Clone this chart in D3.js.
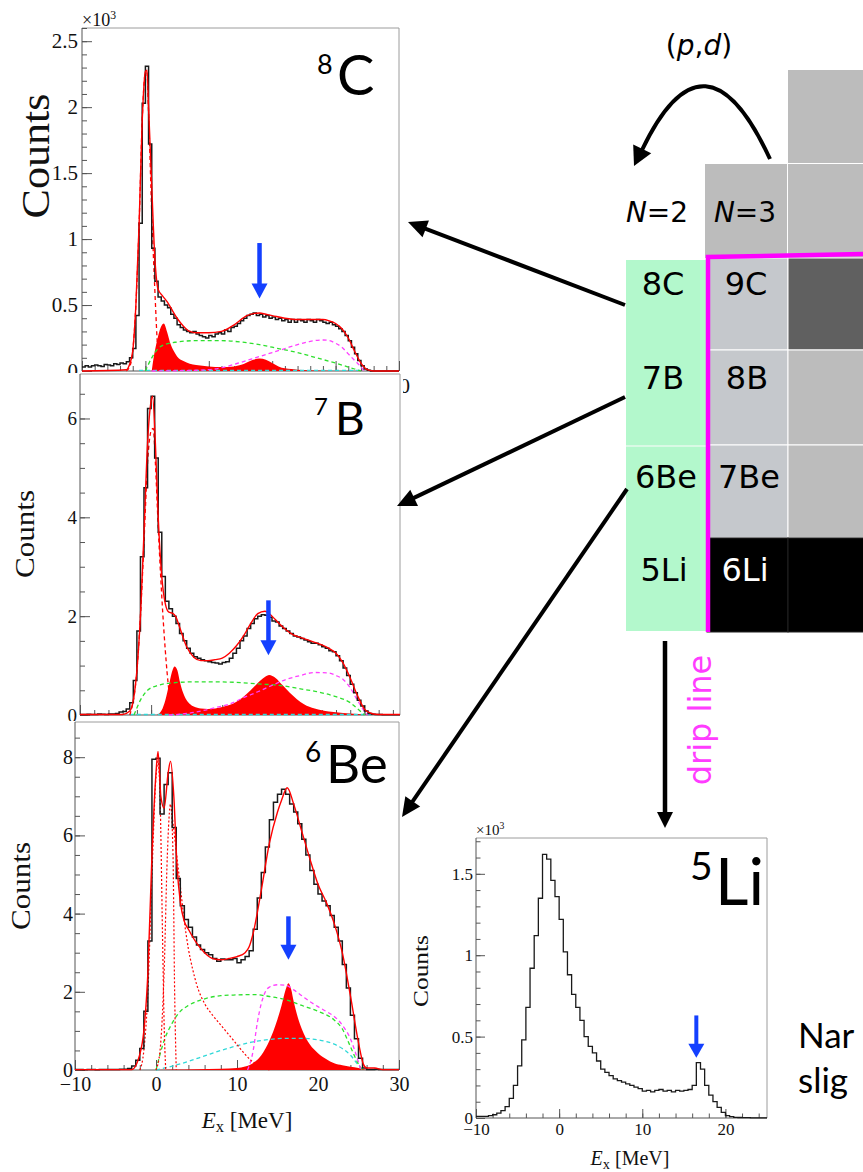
<!DOCTYPE html>
<html>
<head>
<meta charset="utf-8">
<script src="https://cdn.jsdelivr.net/npm/d3@7"></script>
<style>
  html, body { margin: 0; padding: 0; background: #fff; overflow: hidden; }
  svg { display: block; }
</style>
</head>
<body>
<svg id="fig" width="863" height="1172"></svg>
<script>
// ===================== data =====================
// Excitation-energy spectra, 0.5 MeV bins starting at -10 MeV.
const binWidth = 0.5;
const histStart = -10;

// 8C (x10^3 counts)
const c8Counts = [
  0.03, 0.04, 0.03, 0.04, 0.045, 0.04, 0.035, 0.05, 0.045, 0.04, 0.055, 0.05, 0.06, 0.055,
  0.07, 0.1,
  0.17, 0.42, 1.12, 2.03, 2.31, 1.72, 0.93, 0.68,
  0.56, 0.53, 0.5, 0.48, 0.43, 0.4, 0.35, 0.33, 0.31, 0.3, 0.29, 0.3, 0.28, 0.27, 0.26, 0.25,
  0.27, 0.26, 0.28, 0.29, 0.28, 0.31, 0.3, 0.33, 0.34, 0.36, 0.38, 0.4, 0.42, 0.43, 0.44, 0.42, 0.43, 0.41, 0.42, 0.4,
  0.41, 0.39, 0.4, 0.38, 0.39, 0.37, 0.39, 0.37, 0.39, 0.38, 0.37, 0.39, 0.38, 0.37, 0.39, 0.38, 0.37, 0.36, 0.37, 0.35,
  0.34, 0.32, 0.3, 0.27, 0.23, 0.18, 0.13, 0.08, 0.04, 0.015,
  0.005, 0, 0, 0, 0, 0, 0, 0, 0, 0
];
const c8Fit = [[-10,0],[-3,0.01],[-2.5,0.05],[-2,0.15],[-1.5,0.5],[-1,1.1],[-0.5,1.9],[0,2.27],[0.25,2.28],[0.5,2.0],[1,1.4],[1.5,0.85],[2,0.62],[2.7,0.57],[3.5,0.52],[4,0.48],[5,0.4],[6,0.34],[7,0.3],[8,0.29],[9,0.29],[10,0.29],[12,0.3],[14,0.35],[16,0.42],[17,0.435],[18,0.44],[19,0.43],[20,0.42],[22,0.4],[24,0.39],[26,0.39],[28,0.39],[29,0.38],[30,0.36],[31,0.32],[32,0.25],[33,0.15],[34,0.06],[35,0.01],[36,0],[40,0]];
const c8Ground = [[-3,0],[-2.5,0.03],[-2,0.15],[-1.5,0.5],[-1,1.1],[-0.5,1.9],[0,2.26],[0.25,2.26],[0.5,1.95],[1,1.2],[1.5,0.6],[2,0.12],[2.3,0]];
const c8Excited = [[1,0],[1.3,0.1],[1.7,0.2],[2.2,0.3],[2.9,0.36],[3.4,0.3],[4,0.2],[4.5,0.15],[5,0.11],[6,0.075],[7,0.055],[8,0.045],[10,0.035],[12,0.03],[14,0.035],[15,0.045],[16,0.065],[17,0.085],[18,0.095],[19,0.085],[20,0.06],[21,0.035],[22,0.02],[24,0.01],[27,0.003],[30,0]];
const c8Green = [[0,0],[1,0.1],[2,0.17],[3,0.2],[5,0.22],[8,0.23],[12,0.23],[15,0.22],[18,0.2],[21,0.17],[24,0.14],[27,0.1],[30,0.06],[32,0.03],[34,0]];
const c8Magenta = [[1,0],[6,0.003],[10,0.01],[12,0.025],[14,0.05],[16,0.08],[18,0.11],[20,0.14],[22,0.17],[24,0.2],[26,0.225],[28,0.235],[29,0.23],[30,0.21],[31,0.18],[32,0.13],[33,0.08],[34,0.03],[34.5,0]];
const c8Cyan = [[-1,0.004],[34,0.004]];
const c8Marker = [18.0, 0.97, 0.55];   // energy, arrow top, arrow tip

// 7B (x10^3 counts)
const b7Counts = [
  0.01, 0.01, 0.015, 0.01, 0.01, 0.02, 0.015, 0.01, 0.02, 0.02, 0.03,
  0.06, 0.07, 0.12,
  0.25, 0.7, 1.7, 3.2, 4.6, 6.2, 6.45, 5.2, 3.7, 2.8,
  2.3, 2.15, 2.0, 1.85, 1.65, 1.5, 1.35, 1.25, 1.18, 1.15, 1.12, 1.1, 1.08, 1.06, 1.05, 1.03,
  1.06, 1.08, 1.15, 1.25, 1.35, 1.5, 1.6, 1.75, 1.85, 1.95, 2.0, 2.03, 2.02, 1.98, 1.9, 1.88, 1.8, 1.75, 1.7, 1.65,
  1.6, 1.58, 1.55, 1.52, 1.48, 1.45, 1.45, 1.42, 1.38, 1.35, 1.3, 1.28, 1.2, 1.1, 0.95, 0.8, 0.62, 0.45, 0.3, 0.18,
  0.08, 0.03, 0.015, 0.01, 0.01, 0.005, 0.005, 0.005, 0.005, 0.005
];
const b7Fit = [[-10,0.01],[-4,0.01],[-3,0.08],[-2.5,0.3],[-2,0.9],[-1.5,2.0],[-1,3.7],[-0.5,5.5],[0,6.35],[0.2,6.45],[0.6,5.5],[1,4.0],[1.5,2.8],[2,2.25],[2.5,2.08],[3,2.06],[3.5,1.98],[4,1.78],[5,1.38],[6,1.17],[7,1.1],[8,1.1],[9,1.12],[10,1.15],[11,1.25],[12,1.4],[13,1.6],[14,1.85],[15,2.05],[16,2.1],[17,2.0],[18,1.85],[19,1.72],[20,1.62],[21,1.57],[22,1.52],[23,1.47],[24,1.42],[25,1.35],[26,1.25],[27,1.05],[28,0.75],[29,0.4],[30,0.12],[31,0.03],[32,0.01],[35,0.01]];
const b7Ground = [[-3,0],[-2,0.9],[-1.5,2.0],[-1,3.5],[-0.5,5.1],[0,5.75],[0.3,5.8],[0.6,5.1],[1,3.8],[1.5,2.4],[2,1.3],[2.5,0.5],[3,0.1],[3.5,0]];
const b7Excited = [[0.8,0],[1.5,0.1],[2,0.3],[2.5,0.6],[3,0.9],[3.3,0.98],[3.7,0.9],[4,0.7],[4.5,0.45],[5,0.3],[5.5,0.22],[6,0.17],[7,0.13],[8,0.12],[9,0.13],[10,0.16],[11,0.2],[12,0.27],[13,0.37],[14,0.5],[15,0.65],[16,0.77],[16.6,0.81],[17.5,0.75],[18.5,0.6],[19.5,0.45],[20.5,0.32],[21.5,0.22],[23,0.13],[25,0.07],[27,0.04],[29,0.02],[30.5,0]];
const b7Green = [[-2.4,0],[-1.5,0.3],[-0.5,0.5],[1,0.6],[3,0.65],[6,0.67],[9,0.67],[12,0.66],[15,0.63],[18,0.6],[21,0.53],[24,0.45],[26,0.37],[28,0.25],[29,0.13],[30,0]];
const b7Magenta = [[2.5,0],[5,0.03],[7,0.08],[9,0.15],[11,0.22],[13,0.35],[15,0.47],[17,0.6],[19,0.72],[21,0.8],[23,0.86],[25,0.85],[26,0.8],[27,0.72],[28,0.55],[29,0.3],[30,0.08],[30.5,0]];
const b7Cyan = [[-3,0.01],[31,0.01]];
const b7Marker = [16.5, 2.32, 1.21];

// 6Be (x10^3 counts)
const be6Counts = [
  0.01, 0.01, 0.005, 0.01, 0.01, 0.005, 0.01, 0.01, 0.01, 0.015, 0.01, 0.02, 0.02,
  0.04, 0.1, 0.25, 0.55, 1.5, 3.3, 7.95,
  7.97, 6.55, 7.3, 7.6, 6.2,
  4.9, 4.2, 3.85, 3.65, 3.4, 3.2, 3.08, 3.0, 2.95, 2.85, 2.78, 2.84, 2.82, 2.82, 2.85, 2.74, 2.82, 2.9, 3.05,
  3.6, 4.4, 5.05, 5.7, 6.4, 6.85, 7.05, 7.18, 7.05, 6.8, 6.6, 6.3, 5.9, 5.5, 5.1, 4.75, 4.5, 4.32, 4.2, 3.95, 3.65, 3.3, 2.7, 2.1, 1.4, 0.8, 0.3, 0.05,
  0.01, 0.01, 0.02, 0.01, 0.01, 0.01, 0.015, 0.01
];
const be6Fit = [[-10,0.01],[-3,0.01],[-2,0.4],[-1.5,1.0],[-1,2.5],[-0.5,5.5],[0,7.6],[0.25,8.15],[0.6,7.0],[1,6.7],[1.5,7.6],[1.8,7.9],[2.2,7.0],[2.6,5.2],[3,4.3],[3.5,3.8],[4,3.6],[5,3.25],[6,3.0],[7,2.85],[8,2.82],[9,2.85],[10,2.9],[11,3.0],[11.5,3.15],[12,3.5],[13,4.6],[14,5.8],[15,6.6],[15.5,6.9],[16.2,7.22],[17,6.8],[18,6.1],[19,5.4],[20,4.75],[21,4.3],[22,3.75],[23,3.0],[24,1.9],[25,0.7],[25.6,0.15],[26,0.05],[27,0.05],[28,0.01],[30,0.01]];
const be6Ground = [[-2,0],[-1.5,0.5],[-1,2.0],[-0.5,5.0],[0,7.5],[0.25,7.9],[0.5,7.0],[0.8,3.5],[1.0,1.2],[1.2,0]];
const be6First = [[0,0],[0.5,0.5],[1.0,2.5],[1.4,5.5],[1.8,6.8],[2.1,5.5],[2.3,2.0],[2.5,0]];
const be6Broad = [[2.0,6.5],[2.5,5.6],[3.0,4.7],[3.5,3.8],[4,3.1],[4.5,2.6],[5,2.2],[6,1.7],[7,1.4],[8,1.15],[9,0.9],[10,0.65],[11,0.4],[12,0.2],[13,0.08],[14,0]];
const be6Excited = [[0,0],[2,0.01],[5,0.02],[8,0.03],[10,0.05],[11,0.09],[12,0.18],[13,0.38],[14,0.75],[14.5,1.0],[15,1.3],[15.5,1.65],[16,2.05],[16.35,2.22],[16.7,2.05],[17,1.75],[17.5,1.35],[18,1.05],[18.5,0.82],[19,0.65],[20,0.43],[21,0.28],[22,0.17],[23,0.12],[24,0.08],[25,0.05],[26,0]];
const be6Green = [[0,0],[1,0.75],[2,1.2],[3,1.5],[4,1.65],[6,1.82],[8,1.9],[10,1.92],[12,1.93],[14,1.88],[16,1.8],[18,1.65],[20,1.5],[22,1.28],[23,1.05],[24,0.6],[25,0.15],[25.5,0]];
const be6Magenta = [[11.3,0],[12,0.5],[12.5,1.2],[13,1.7],[13.5,2.0],[14,2.12],[15,2.18],[16,2.17],[17,2.05],[18,1.9],[19,1.75],[20,1.62],[21,1.5],[22,1.37],[23,1.15],[24,0.8],[25,0.2],[25.3,0]];
const be6Cyan = [[0,0],[2,0.1],[4,0.22],[6,0.36],[8,0.5],[10,0.62],[12,0.72],[14,0.78],[16,0.81],[18,0.81],[20,0.77],[22,0.66],[23,0.55],[24,0.38],[25,0.12],[25.5,0]];
const be6Marker = [16.35, 3.93, 2.82];

// 5Li (x10^3 counts)
const li5Counts = [
  0.01, 0.01, 0.01, 0.015, 0.02,
  0.03, 0.045, 0.07, 0.12, 0.2, 0.32, 0.48, 0.68, 0.92, 1.12, 1.35, 1.62, 1.59,
  1.46, 1.36, 1.22, 1.02, 0.88, 0.76, 0.68, 0.6, 0.5, 0.44, 0.4, 0.35, 0.3, 0.28, 0.26, 0.24, 0.23, 0.22, 0.21, 0.2, 0.19, 0.18,
  0.165, 0.17, 0.16, 0.17, 0.175, 0.165, 0.17, 0.16, 0.17, 0.165, 0.17, 0.175,
  0.2, 0.34, 0.3, 0.2, 0.14, 0.1, 0.065, 0.035, 0.015, 0.008,
  0.004, 0.003, 0.002, 0.002, 0.001, 0.001, 0.001, 0.001
];
const li5Marker = [16.5, 0.63, 0.37];

// Axis ticks, and the tick labels left uncovered by the panel stacked below
const c8YTicks = [0, 0.5, 1, 1.5, 2, 2.5];
const c8XTicks = [-10, 0, 10, 20, 30, 40];
const c8XLabels = [40];
const b7YTicks = [0, 2, 4, 6];
const b7XTicks = [-10, 0, 10, 20, 30];
const b7XLabels = [];
const be6YTicks = [0, 2, 4, 6, 8];
const be6XTicks = [-10, 0, 10, 20, 30];
const li5YTicks = [0, 0.5, 1, 1.5];
const li5XTicks = [-10, 0, 10, 20];

// Chart of nuclides: N = 2 and N = 3 columns
const isotopesN2 = ["8C", "7B", "6Be", "5Li"];
const isotopesN3 = ["9C", "8B", "7Be", "6Li"];

// Note lines at the lower right
const noteLines = ["Nar", "slig"];

// ===================== drawing =====================
const SERIF = "'Liberation Serif', 'Times New Roman', serif";
const SANS = "'DejaVu Sans', Verdana, sans-serif";
const LATO = "Lato, 'Open Sans', sans-serif";
const RED = "#ff0000", GREEN = "#2ee02e", MAGENTA = "#ff40ff", CYAN = "#2fd8d8", BLUE = "#1440ff";

const svg = d3.select("#fig");
const defs = svg.append("defs");

function histPoints(counts) {
  const pts = counts.map((v, i) => [histStart + i * binWidth, v]);
  pts.push([histStart + counts.length * binWidth, counts[counts.length - 1]]);
  return pts;
}

function drawPanel(p) {
  const g = svg.append("g");
  if (p.bg) {
    g.append("rect").attr("x", p.bg[0]).attr("y", p.bg[1]).attr("width", p.bg[2]).attr("height", p.bg[3]).attr("fill", "#fff");
  }
  const x = d3.scaleLinear().domain(p.xDomain).range([p.left, p.right]);
  const y = d3.scaleLinear().domain(p.yDomain).range([p.bottom, p.top]);

  defs.append("clipPath").attr("id", "clip-" + p.id)
    .append("rect").attr("x", p.left).attr("y", p.top)
    .attr("width", p.right - p.left).attr("height", p.bottom - p.top + 1);

  // frame
  g.append("path")
    .attr("d", `M${p.left},${p.top}H${p.right}V${p.bottom}`)
    .attr("fill", "none").attr("stroke", "#9c9c9c").attr("stroke-width", 1);

  const styleAxis = (sel, fs) => {
    sel.select(".domain").remove();
    sel.selectAll("line").attr("stroke", "#555").attr("stroke-width", 1);
    sel.selectAll("text").attr("font-family", SERIF).attr("font-size", fs).attr("fill", "#111");
    sel.selectAll("text").filter(function () { return this.textContent === ""; }).remove();
  };

  // y axis: major + minor ticks pointing inward
  g.append("g").attr("transform", `translate(${p.left},0)`)
    .call(d3.axisLeft(y).tickValues(p.yMinor).tickSize(-p.minorLen).tickFormat(() => ""))
    .call(s => styleAxis(s, p.tickFont));
  g.append("g").attr("transform", `translate(${p.left},0)`)
    .call(d3.axisLeft(y).tickValues(p.yTicks).tickSize(-p.majorLen).tickPadding(p.yPad).tickFormat(d => String(d)))
    .call(s => styleAxis(s, p.tickFont));
  // x axis
  const fmt = d3.format("d");
  const shown = p.xLabels || p.xTicks;
  g.append("g").attr("transform", `translate(0,${p.bottom})`)
    .call(d3.axisBottom(x).tickValues(p.xMinor).tickSize(-p.minorLen).tickFormat(() => ""))
    .call(s => styleAxis(s, p.tickFont));
  g.append("g").attr("transform", `translate(0,${p.bottom})`)
    .call(d3.axisBottom(x).tickValues(p.xTicks).tickSize(-p.majorLen).tickPadding(p.xPad)
      .tickFormat(d => shown.includes(d) ? fmt(d) : ""))
    .call(s => styleAxis(s, p.tickFont));
  // axis lines
  g.append("path").attr("d", `M${p.left},${p.top}V${p.bottom}H${p.right}`)
    .attr("fill", "none").attr("stroke", "#555").attr("stroke-width", 1);

  const plot = g.append("g").attr("clip-path", `url(#clip-${p.id})`);
  const curve = d3.line().x(d => x(d[0])).y(d => y(d[1])).curve(d3.curveMonotoneX);
  const area = d3.area().x(d => x(d[0])).y0(y(0)).y1(d => y(d[1])).curve(d3.curveMonotoneX);

  (p.fills || []).forEach(f => {
    plot.append("path").attr("d", area(f)).attr("fill", RED).attr("stroke", "none");
  });
  (p.comps || []).forEach(c => {
    plot.append("path").attr("d", curve(c.data)).attr("fill", "none")
      .attr("stroke", c.color).attr("stroke-width", c.width || 1.3)
      .attr("stroke-dasharray", c.dash);
  });
  if (p.counts) {
    plot.append("path")
      .attr("d", d3.line().x(d => x(d[0])).y(d => y(d[1])).curve(d3.curveStepAfter)(histPoints(p.counts)))
      .attr("fill", "none").attr("stroke", "#1a1a1a").attr("stroke-width", p.histWidth || 1.5);
  }
  if (p.fit) {
    plot.append("path").attr("d", curve(p.fit)).attr("fill", "none")
      .attr("stroke", RED).attr("stroke-width", 1.4);
  }

  // blue marker arrow
  if (p.marker) {
    const [e, top, tip] = p.marker;
    const ax = x(e), yTop = y(top), yTip = y(tip);
    const hl = p.arrowHead[0], hw = p.arrowHead[1];
    g.append("line").attr("x1", ax).attr("x2", ax).attr("y1", yTop).attr("y2", yTip - hl + 1)
      .attr("stroke", BLUE).attr("stroke-width", p.arrowHead[2]);
    g.append("path").attr("d", `M${ax - hw},${yTip - hl}L${ax + hw},${yTip - hl}L${ax},${yTip}Z`).attr("fill", BLUE);
  }

  // y-axis title
  g.append("text")
    .attr("transform", `translate(${p.yTitle[0]},${p.yTitle[1]}) rotate(-90)`)
    .attr("text-anchor", "middle").attr("dominant-baseline", "central")
    .attr("font-family", SERIF).attr("font-size", p.yTitle[2])
    .attr("textLength", p.yTitle[3]).attr("lengthAdjust", "spacingAndGlyphs")
    .attr("fill", "#111").text("Counts");

  // x-axis title
  if (p.xTitle) {
    const [cx, by, fs] = p.xTitle;
    const t = g.append("text").attr("x", cx).attr("y", by).attr("text-anchor", "middle")
      .attr("font-family", SERIF).attr("font-size", fs).attr("fill", "#111");
    t.append("tspan").attr("font-style", "italic").text("E");
    t.append("tspan").attr("font-size", fs * 0.72).attr("dy", fs * 0.18).text("x");
    t.append("tspan").attr("dy", -fs * 0.18).text(" [MeV]");
  }
  // x10^3 multiplier
  if (p.mult) {
    const [mx, my, fs] = p.mult;
    const t = g.append("text").attr("x", mx).attr("y", my)
      .attr("font-family", SERIF).attr("font-size", fs).attr("fill", "#111");
    t.append("tspan").text("\u00d710");
    t.append("tspan").attr("font-size", fs * 0.65).attr("dy", -fs * 0.4).text("3");
  }
  // nucleus label
  const [sup, sym] = p.nucleus;
  g.append("text").attr("x", p.nucPos[0]).attr("y", p.nucPos[1])
    .attr("font-family", LATO).attr("font-size", p.nucPos[2]).attr("fill", "#000").text(sup);
  g.append("text").attr("x", p.nucPos[3]).attr("y", p.nucPos[4])
    .attr("font-family", LATO).attr("font-size", p.nucPos[5]).attr("fill", "#000").text(sym);
}

const step = (a, b, s) => d3.range(a, b + 1e-9, s);

// 8C
drawPanel({
  id: "c8", left: 82, right: 399, top: 28, bottom: 371,
  xDomain: [-10, 40], yDomain: [0, 2.6],
  yTicks: c8YTicks, yMinor: step(0, 2.6, 0.1), xTicks: c8XTicks, xLabels: c8XLabels, xMinor: step(-10, 40, 2),
  majorLen: 10, minorLen: 5, yPad: 4, xPad: 7, tickFont: 21,
  counts: c8Counts, fit: c8Fit, fills: [c8Excited],
  comps: [
    { data: c8Cyan, color: CYAN, dash: "4,3" },
    { data: c8Green, color: GREEN, dash: "4,3" },
    { data: c8Magenta, color: MAGENTA, dash: "4,3" },
    { data: c8Ground, color: RED, dash: "4,3" }
  ],
  marker: c8Marker, arrowHead: [15, 8, 4.5],
  yTitle: [35, 156, 41, 125], mult: [82, 26, 18],
  nucleus: ["8", "C"], nucPos: [317, 74, 27, 337, 95, 56]
});

// 7B
drawPanel({
  id: "b7", bg: [0, 373, 403, 349], left: 80, right: 400, top: 374, bottom: 715,
  xDomain: [-10, 35], yDomain: [0, 6.9],
  yTicks: b7YTicks, yMinor: step(0, 6.9, 0.5), xTicks: b7XTicks, xLabels: b7XLabels, xMinor: step(-10, 35, 2),
  majorLen: 10, minorLen: 5, yPad: 3, xPad: 7, tickFont: 19,
  counts: b7Counts, fit: b7Fit, fills: [b7Excited],
  comps: [
    { data: b7Cyan, color: CYAN, dash: "4,3" },
    { data: b7Green, color: GREEN, dash: "4,3" },
    { data: b7Magenta, color: MAGENTA, dash: "4,3" },
    { data: b7Ground, color: RED, dash: "4,3" }
  ],
  marker: b7Marker, arrowHead: [15, 8, 4.5],
  yTitle: [25, 534, 27, 88],
  nucleus: ["7", "B"], nucPos: [314, 415, 24, 335, 435, 46]
});

// 6Be
drawPanel({
  id: "be6", bg: [0, 721, 403, 451], left: 75, right: 399, top: 722, bottom: 1070,
  xDomain: [-10, 30], yDomain: [0, 8.9],
  yTicks: be6YTicks, yMinor: step(0, 8.9, 0.5), xTicks: be6XTicks, xMinor: step(-10, 30, 2),
  majorLen: 10, minorLen: 5, yPad: 2, xPad: 7, tickFont: 20,
  counts: be6Counts, fit: be6Fit, fills: [be6Excited],
  comps: [
    { data: be6Cyan, color: CYAN, dash: "4,3" },
    { data: be6Green, color: GREEN, dash: "4,3" },
    { data: be6Magenta, color: MAGENTA, dash: "4,3" },
    { data: be6Ground, color: RED, dash: "2,2", width: 1.2 },
    { data: be6First, color: RED, dash: "2,2", width: 1.2 },
    { data: be6Broad, color: RED, dash: "2,2", width: 1.2 }
  ],
  marker: be6Marker, arrowHead: [15, 8, 4.5],
  yTitle: [21, 886, 27, 88], xTitle: [247, 1128, 23],
  nucleus: ["6", "Be"], nucPos: [305, 762, 28, 326, 783, 53]
});

// 5Li
drawPanel({
  id: "li5", left: 476, right: 767, top: 838, bottom: 1118,
  xDomain: [-10, 25], yDomain: [0, 1.72],
  yTicks: li5YTicks, yMinor: step(0, 1.72, 0.1), xTicks: li5XTicks, xMinor: step(-10, 25, 2),
  majorLen: 9, minorLen: 4.5, yPad: 3, xPad: 5, tickFont: 17,
  counts: li5Counts, histWidth: 1.3,
  marker: li5Marker, arrowHead: [14, 8, 4],
  yTitle: [420, 971, 22, 72], xTitle: [630, 1165, 20], mult: [476, 835, 15],
  nucleus: ["5", "Li"], nucPos: [690, 880, 39, 715, 905, 65]
});

// ---------- chart of nuclides ----------
const chart = svg.append("g");
const rowEdges = [258, 350, 445, 538, 632];
const colN2 = [626, 706], colN3 = [707, 788], colN4 = [788, 863];
const greyTop = "#bcbcbc", greyCell = "#c5c8cc", greyDark = "#606060";

// upper grey cells
chart.append("rect").attr("x", colN4[0]).attr("y", 70).attr("width", colN4[1] - colN4[0]).attr("height", 93).attr("fill", greyTop);
chart.append("rect").attr("x", colN4[0]).attr("y", 164).attr("width", colN4[1] - colN4[0]).attr("height", 94).attr("fill", greyTop);
chart.append("rect").attr("x", colN3[0] - 2).attr("y", 164).attr("width", colN3[1] - colN3[0] + 1).attr("height", 94).attr("fill", greyTop);

// N = 2 column (green)
chart.append("rect").attr("x", colN2[0]).attr("y", 260).attr("width", colN2[1] - colN2[0]).attr("height", 371).attr("fill", "#b3f8cc");
chart.append("line").attr("x1", colN2[0]).attr("x2", colN2[1]).attr("y1", 446).attr("y2", 446).attr("stroke", "#e6fbee").attr("stroke-width", 1.5);

// N = 3 and N = 4 columns
const n3Fill = [greyCell, greyCell, greyCell, "#000"];
const n4Fill = [greyDark, greyTop, greyTop, "#000"];
isotopesN3.forEach((name, i) => {
  chart.append("rect").attr("x", colN3[0]).attr("y", rowEdges[i]).attr("width", colN3[1] - colN3[0])
    .attr("height", rowEdges[i + 1] - rowEdges[i]).attr("fill", n3Fill[i])
    .attr("stroke", i === 3 ? "#222" : "#fff").attr("stroke-width", 1);
  chart.append("rect").attr("x", colN4[0]).attr("y", rowEdges[i]).attr("width", colN4[1] - colN4[0] + 2)
    .attr("height", rowEdges[i + 1] - rowEdges[i]).attr("fill", n4Fill[i])
    .attr("stroke", i === 3 ? "#222" : "#fff").attr("stroke-width", 1);
});

// cell labels
const labelBase = [295, 389, 488, 581];
const n2X = [663, 663, 666, 664], n3X = [746, 747, 749, 745];
isotopesN2.forEach((name, i) => {
  chart.append("text").attr("x", n2X[i]).attr("y", labelBase[i]).attr("text-anchor", "middle")
    .attr("font-family", SANS).attr("font-size", 32).attr("fill", "#000").text(name);
});
isotopesN3.forEach((name, i) => {
  chart.append("text").attr("x", n3X[i]).attr("y", labelBase[i]).attr("text-anchor", "middle")
    .attr("font-family", SANS).attr("font-size", 32).attr("fill", i === 3 ? "#fff" : "#000").text(name);
});

// neutron-number labels
[["2", 657], ["3", 745]].forEach(([n, cx]) => {
  const t = chart.append("text").attr("x", cx).attr("y", 222).attr("text-anchor", "middle")
    .attr("font-family", SANS).attr("font-size", 28).attr("fill", "#000");
  t.append("tspan").attr("font-style", "italic").text("N");
  t.append("tspan").text("=" + n);
});

// drip line
chart.append("path").attr("d", "M708,632 L708,257 L863,254")
  .attr("fill", "none").attr("stroke", "#ff00ff").attr("stroke-width", 4.5).attr("stroke-linejoin", "miter");
chart.append("text").attr("transform", "translate(711,720) rotate(-90)").attr("text-anchor", "middle")
  .attr("font-family", SANS).attr("font-size", 32).attr("fill", "#ff3cff").text("drip line");

// (p,d) reaction label and curved arrow
const pd = chart.append("text").attr("x", 699).attr("y", 55).attr("text-anchor", "middle")
  .attr("font-family", SANS).attr("font-size", 28).attr("fill", "#000");
pd.append("tspan").text("(");
pd.append("tspan").attr("font-style", "italic").text("p");
pd.append("tspan").text(",");
pd.append("tspan").attr("font-style", "italic").text("d");
pd.append("tspan").text(")");

chart.append("path").attr("d", "M770,159 Q705,18 642,150").attr("fill", "none")
  .attr("stroke", "#000").attr("stroke-width", 4);

function arrowHead(tipX, tipY, ux, uy, len, half) {
  const bx = tipX - ux * len, by = tipY - uy * len;
  chart.append("path")
    .attr("d", `M${tipX},${tipY}L${bx - uy * half},${by + ux * half}L${bx + uy * half},${by - ux * half}Z`)
    .attr("fill", "#000");
}
{
  const dx = 634 - 705, dy = 166 - 18, L = Math.hypot(dx, dy);
  arrowHead(634, 166, dx / L, dy / L, 19, 10);
}

function straightArrow(x1, y1, x2, y2, w, len, half) {
  const dx = x2 - x1, dy = y2 - y1, L = Math.hypot(dx, dy), ux = dx / L, uy = dy / L;
  chart.append("line").attr("x1", x1).attr("y1", y1)
    .attr("x2", x2 - ux * (len - 2)).attr("y2", y2 - uy * (len - 2))
    .attr("stroke", "#000").attr("stroke-width", w);
  arrowHead(x2, y2, ux, uy, len, half);
}
straightArrow(625, 305, 408, 222, 4, 19, 9);
straightArrow(625, 397, 397, 506, 4, 19, 9);
straightArrow(627, 489, 402, 817, 4, 19, 9);
straightArrow(665, 641, 665, 828, 4.5, 16, 8);

// side note
noteLines.forEach((line, i) => {
  svg.append("text").attr("x", 798).attr("y", 1048 + i * 45)
    .attr("font-family", LATO).attr("font-size", 35).attr("fill", "#000").text(line);
});
</script>
</body>
</html>
